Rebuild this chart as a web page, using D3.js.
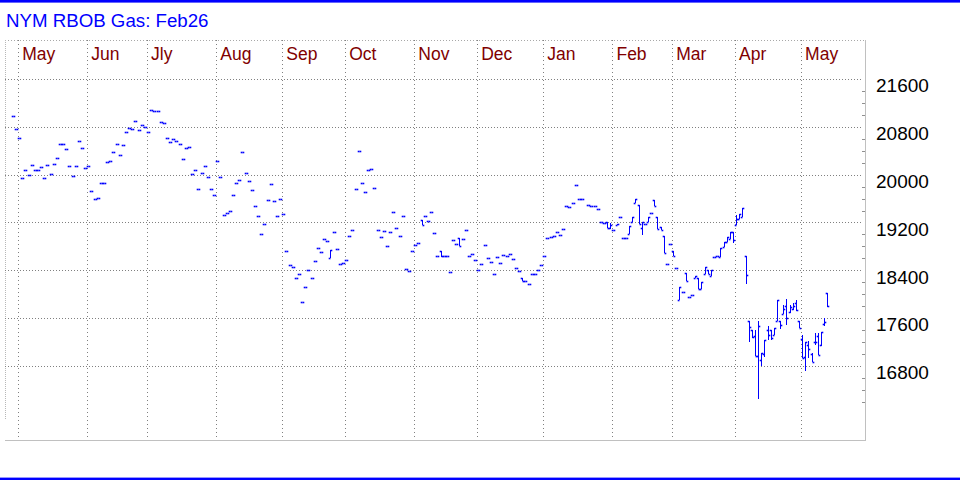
<!DOCTYPE html>
<html><head><meta charset="utf-8">
<script src="https://cdn.jsdelivr.net/npm/d3@7"></script>
<style>
body{margin:0;background:#fff}
svg{display:block}
text{font-family:"Liberation Sans",Arial,sans-serif}
</style></head>
<body><svg id="c" width="960" height="480"></svg>
<script>
// ---- data (trading-day sequence, first two bars are late April) ----
const title = "NYM RBOB Gas: Feb26";
const monthLabels = ["May","Jun","Jly","Aug","Sep","Oct","Nov","Dec","Jan","Feb","Mar","Apr","May"];
const monthStarts = [2,24,43,65,86,106,128,148,169,191,210,230,251];
const yTicks = [16800,17600,18400,19200,20000,20800,21600];
const minorTicks = [16200,16400,16600,17000,17200,17400,17800,18000,18200,18600,18800,19000,19400,19600,19800,20200,20400,20600,21000,21200,21400];

// settlement / close for every trading day (null = no bar)
const closes = [
 20980,20760,20610,19940,20075,19990,20155,20075,20075,20125,
 19940,20155,20005,20175,20275,20510,20510,20425,20140,19975,
 20140,20560,20440,20105,20140,19720,19590,19605,19855,19855,
 20205,20225,20375,20510,20325,20490,20710,20775,20760,20895,
 20740,20825,20790,20710,21075,21060,21060,20875,20860,20610,
 20540,20590,20560,20510,20255,20440,20460,20005,20075,19755,
 20025,20140,19955,19755,19655,20225,19955,19320,19355,19390,
 19655,19855,19905,20375,20025,19890,19740,19470,19305,19005,
 19170,19570,19840,19555,19305,19590,19340,18720,18485,18450,
 18270,18335,17865,18115,18400,18270,18550,18770,18705,18920,
 18885,18735,19035,18755,18500,18520,18570,18970,19070,19755,
 20390,19855,19705,20075,20090,19770,19070,18955,19055,18805,
 19035,19370,19105,18970,19305,18420,18385,18720,18820,18855,
 19155,19305,19220,19370,19020,18635,18635,18635,18635,18370,
 18905,18835,18805,18920,19070,18635,18670,18570,18400,18500,
 18820,18600,18535,18335,18620,18520,18650,18635,18670,18585,
 18440,18385,18220,18220,18170,18335,18335,18400,18485,18635,
 18935,18955,18970,19035,18985,19085,19470,19455,19520,19825,
 19590,19590,null,19490,19470,19470,19420,19215,19195,19100,
 19150,19070,19175,19290,18935,18935,19135,19290,19590,19170,
 19205,19170,19290,19355,19470,19085,19075,18685,18500,18835,
 18645,18440,18115,18035,18220,17950,17985,18300,18085,18200,
 18450,18335,18400,18630,18645,18770,18870,18955,19040,18905,
 19265,19340,19445,18320,17450,17290,16965,17465,17015,17230,
 17315,17265,17430,17900,17480,17750,17600,17780,17800,17730,
 17430,16930,17200,17080,16865,17200,16980,17365,17535,17800
];

// days that traded with a range (others: open = high = low = close)
const rangeDays = [101,130,136,142,162,189,190,192,196,197,198,199,200,202,204,205,206,207,
 210,212,214,217,218,219,220,221,222,225,226,227,228,229,
 230,231,232,233,234,235,236,237,238,239,240,241,242,243,244,245,246,247,248,249,250,
 251,252,253,254,255,256,257,258,259];
const rangeOpen = [18600,19235,18720,18935,18270,19205,19100,19155,19005,19215,19520,19490,19100,19205,19570,19290,19120,18970,
 18725,17900,18350,18270,18270,18085,18335,18400,18300,18630,18795,18870,18920,19040,
 19155,19265,19290,18640,17550,17400,17300,16965,16900,17000,17400,17400,17315,17550,17550,17665,17800,17700,17750,17850,17550,
 17250,16950,17150,17000,17200,17300,17150,17500,18015];
const rangeHigh = [18735,19235,18720,18935,18270,19205,19190,19175,19135,19290,19590,19490,19205,19290,19570,19290,19125,18970,
 18725,18115,18350,18300,18270,18200,18450,18400,18400,18770,18870,18955,19040,19040,
 19320,19340,19445,18640,17550,17400,17400,17550,17015,17230,17465,17400,17430,17900,17550,17815,17915,17815,17850,17900,17550,
 17315,17200,17215,17015,17350,17350,17365,17600,18015];
const rangeLow = [18600,19155,18620,18805,18220,19100,19085,19155,19005,19215,19520,19170,18985,19205,19470,19085,19075,18685,
 18645,17900,18220,18270,18085,18085,18335,18335,18300,18630,18795,18870,18920,18855,
 19155,19265,19290,18170,17200,17265,16965,16245,16795,16945,17230,17230,17315,17550,17415,17665,17480,17680,17735,17715,17430,
 16930,16715,16930,16865,17145,16980,17130,17465,17785];

// ---- build ----
const bars = [];
closes.forEach((c,i)=>{
  if(c==null) return;
  const r = rangeDays.indexOf(i);
  bars.push({i, o: r<0?c:rangeOpen[r], h: r<0?c:rangeHigh[r], l: r<0?c:rangeLow[r], c});
});

const svg = d3.select("#c");
const L=5, R=865, T=40, B=440;
const x = d3.scaleLinear().domain([-2.5, 271]).range([L, R]);
const y = d3.scaleLinear().domain([15562, 22252]).range([B, T]);
const blue = "#0000ff";

// frame bands
svg.append("rect").attr("x",0).attr("y",0).attr("width",960).attr("height",2.6).attr("fill",blue);
svg.append("rect").attr("x",0).attr("y",477.6).attr("width",960).attr("height",2.4).attr("fill",blue);

svg.append("text").attr("x",6).attr("y",27.3).attr("font-size",18.7).attr("fill",blue).text(title);

// borders
svg.append("line").attr("x1",L).attr("x2",R).attr("y1",T+0.5).attr("y2",T+0.5)
  .attr("stroke","#a8a8a8").attr("stroke-dasharray","1,2");
svg.append("line").attr("x1",L+0.5).attr("x2",L+0.5).attr("y1",T).attr("y2",420)
  .attr("stroke","#b8b8b8").attr("stroke-dasharray","1,1");

// horizontal grid
svg.append("g").selectAll("line").data(yTicks).join("line")
  .attr("x1",L).attr("x2",R-2)
  .attr("y1",d=>Math.round(y(d))+0.5).attr("y2",d=>Math.round(y(d))+0.5)
  .attr("stroke","#808080").attr("stroke-dasharray","1,2");

// vertical month grid
svg.append("g").selectAll("line").data(monthStarts).join("line")
  .attr("x1",d=>Math.round(x(d)-1)+0.5).attr("x2",d=>Math.round(x(d)-1)+0.5)
  .attr("y1",T).attr("y2",437)
  .attr("stroke","#808080").attr("stroke-dasharray","1,3");

// axes lines
svg.append("line").attr("x1",L).attr("x2",R+1).attr("y1",B+0.5).attr("y2",B+0.5).attr("stroke","#c0c0c0");
svg.append("line").attr("x1",R+0.5).attr("x2",R+0.5).attr("y1",T).attr("y2",B).attr("stroke","#c0c0c0");

// minor ticks
svg.append("g").selectAll("line").data(minorTicks).join("line")
  .attr("x1",R-3).attr("x2",R)
  .attr("y1",d=>Math.round(y(d))+0.5).attr("y2",d=>Math.round(y(d))+0.5)
  .attr("stroke","#909090");

// y axis labels
const yAxis = d3.axisRight(y).tickValues(yTicks).tickSize(0).tickPadding(11).tickFormat(d3.format("d"));
const ga = svg.append("g").attr("transform",`translate(${R},0)`).call(yAxis);
ga.select(".domain").remove();
ga.attr("font-family",'"Liberation Sans",Arial,sans-serif').attr("font-size",19);
ga.selectAll("text").attr("dy","0.67em").attr("fill","#000");

// month labels
svg.append("g").selectAll("text").data(monthLabels).join("text")
  .attr("x",(d,k)=>x(monthStarts[k])+3)
  .attr("y",59.5).attr("font-size",17.5).attr("fill","#800000").text(d=>d);

// OHLC bars
const cx = b => Math.round(x(b.i)) + 0.5;
const py = v => Math.round(y(v)) + 0.5;
const gb = svg.append("g").attr("stroke",blue);
gb.selectAll("line.v").data(bars.filter(b=>b.h>b.l)).join("line").attr("class","v")
  .attr("shape-rendering","crispEdges")
  .attr("x1",cx).attr("x2",cx)
  .attr("y1",b=>Math.round(y(b.h))).attr("y2",b=>Math.round(y(b.l))).attr("stroke-width",1);
gb.selectAll("line.o").data(bars).join("line").attr("class","o")
  .attr("x1",b=>cx(b)-1.8).attr("x2",b=>cx(b))
  .attr("y1",b=>py(b.o)).attr("y2",b=>py(b.o)).attr("stroke-width",1.6);
gb.selectAll("line.c").data(bars).join("line").attr("class","c")
  .attr("x1",cx).attr("x2",b=>cx(b)+1.8)
  .attr("y1",b=>py(b.c)).attr("y2",b=>py(b.c)).attr("stroke-width",1.6);
</script>
</body></html>
